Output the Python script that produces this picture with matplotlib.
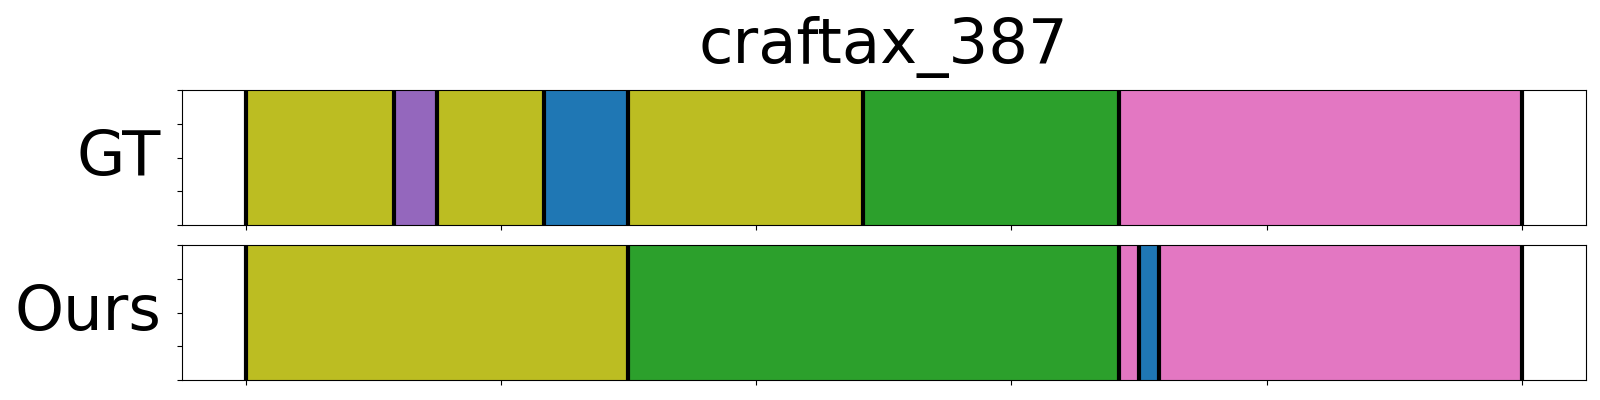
# segmentation plot: ground truth vs prediction
import matplotlib
matplotlib.use('Agg')
import matplotlib.pyplot as plt

title = 'craftax_387'
row_names = ['GT', 'Ours']

# segment boundaries (frames) and segment colours for each row
gt_bounds = [0, 58, 75, 117, 150, 242, 342, 500]
gt_colors = ['#bcbd22', '#9467bd', '#bcbd22', '#1f77b4', '#bcbd22', '#2ca02c', '#e377c2']
ours_bounds = [0, 150, 342, 350, 358, 500]
ours_colors = ['#bcbd22', '#2ca02c', '#e377c2', '#1f77b4', '#e377c2']

fig = plt.figure(figsize=(16, 4), dpi=100)
ax1 = fig.add_axes([0.1136, 0.4375, 0.8774, 0.3367])
ax2 = fig.add_axes([0.1136, 0.05, 0.8774, 0.3367])

rows = [(ax1, gt_bounds, gt_colors), (ax2, ours_bounds, ours_colors)]
for (ax, bounds, colors), name in zip(rows, row_names):
    for i in range(len(colors)):
        ax.axvspan(bounds[i], bounds[i + 1], facecolor=colors[i], edgecolor=colors[i], linewidth=0.5)
    for b in bounds:
        ax.axvline(b, color='black', linewidth=3)
    ax.set_xlim(-25, 525)
    ax.set_ylim(0, 1)
    ax.set_xticks([0, 100, 200, 300, 400, 500])
    ax.set_xticklabels([])
    ax.set_yticks([0, 0.25, 0.5, 0.75, 1.0])
    ax.set_yticklabels([])
    ax.set_ylabel(name, fontsize=45, rotation=0, ha='right', va='center', labelpad=8)

ax1.set_title(title, fontsize=45, pad=19.5)

plt.savefig('out.png')
